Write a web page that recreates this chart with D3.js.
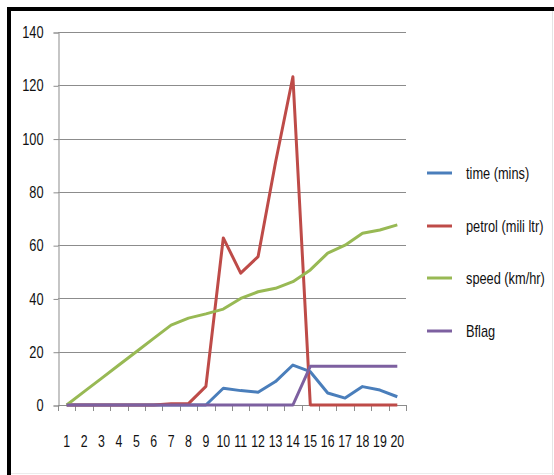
<!DOCTYPE html>
<html><head><meta charset="utf-8">
<script src="https://cdn.jsdelivr.net/npm/d3@7"></script>
<style>
body{margin:0;background:#fff;}
svg{display:block;}
text{font-family:"Liberation Sans",Arial,sans-serif;fill:#111;}
</style></head><body>
<svg id="chart" width="554" height="475"></svg>
<script>
const categories = ["1","2","3","4","5","6","7","8","9","10","11","12","13","14","15","16","17","18","19","20"];
const timeMins   = [0,0,0,0,0,0,0,0,0,6.3,5.4,4.8,8.8,15,12.5,4.5,2.6,6.9,5.6,3.1];
const petrolMl   = [0,0,0,0,0,0,0.5,0.5,7,62.7,49.5,55.7,91,123.2,0,0,0,0,0,0];
const speedKmh   = [0,5,10,15,20,25,30,32.6,34.2,36,40,42.5,43.8,46.3,50.7,57,60,64.5,65.7,67.6];
const bflag      = [0,0,0,0,0,0,0,0,0,0,0,0,0,0,14.5,14.5,14.5,14.5,14.5,14.5];
const yTicks     = [0,20,40,60,80,100,120,140];
const seriesNames = ["time (mins)","petrol (mili ltr)","speed (km/hr)","Bflag"];
const seriesColors = ["#4a7ebb","#be4b48","#98b954","#7d60a0"];
const seriesData = [timeMins, petrolMl, speedKmh, bflag];

(function(){
const svg = d3.select("#chart");
// condense a text horizontally around its own anchor x
function squeeze(sel, s){
  sel.each(function(){
    const t = d3.select(this);
    const ax = +(t.attr("x") || 0);
    t.attr("transform", `translate(${ax},0) scale(${s},1) translate(${-ax},0)`);
  });
}
// frame
svg.append("rect").attr("x",7).attr("y",7).attr("width",547).attr("height",4).attr("fill","#000");
svg.append("rect").attr("x",7).attr("y",7).attr("width",4).attr("height",468).attr("fill","#000");
svg.append("line").attr("x1",552.5).attr("x2",552.5).attr("y1",11).attr("y2",475).attr("stroke","#e4e4e4");
svg.append("line").attr("x1",11).attr("x2",554).attr("y1",473.5).attr("y2",473.5).attr("stroke","#ececec");

const pL = 58, pR = 406, pT = 32, pB = 405;
const x = d3.scaleBand().domain(categories).range([pL, pR]);
const y = d3.scaleLinear().domain([0,140]).range([pB, pT]);

// gridlines
svg.append("g").selectAll("line").data(yTicks.filter(d=>d>0)).join("line")
  .attr("x1",pL).attr("x2",pR)
  .attr("y1",d=>Math.round(y(d))+0.5).attr("y2",d=>Math.round(y(d))+0.5)
  .attr("stroke","#8c8c8c").attr("stroke-width",1.2);

// y axis
const yAxis = d3.axisLeft(y).tickValues(yTicks).tickSize(5).tickPadding(10).tickFormat(d3.format("d"));
const gy = svg.append("g").attr("transform",`translate(${pL+0.5},0.5)`).call(yAxis);
gy.select(".domain").attr("stroke","#a0a0a0").attr("stroke-width",1.2);
gy.selectAll(".tick line").attr("stroke","#8c8c8c");
gy.selectAll("text").style("font-size","16px").attr("fill","#111").call(squeeze,0.8);

// x axis
const xAxis = d3.axisBottom(x).tickSize(0).tickPadding(30);
const gx = svg.append("g").attr("transform",`translate(0,${pB+0.5})`).call(xAxis);
gx.select(".domain").remove();
gx.selectAll("text").style("font-size","16px").attr("fill","#111").call(squeeze,0.77);
// boundary ticks
const bounds = categories.map(c=>x(c)).concat([pR]);
svg.append("g").selectAll("line").data(bounds).join("line")
  .attr("x1",d=>Math.round(d)+0.5).attr("x2",d=>Math.round(d)+0.5)
  .attr("y1",pB).attr("y2",pB+6).attr("stroke","#8c8c8c");
svg.append("line").attr("x1",pL).attr("x2",pR).attr("y1",pB+0.5).attr("y2",pB+0.5)
  .attr("stroke","#8c8c8c").attr("stroke-width",1.2);

// series
const line = d3.line().x((d,i)=>x(categories[i])+x.bandwidth()/2).y(d=>y(d));
seriesData.forEach((vals,k)=>{
  svg.append("path").datum(vals).attr("d",line).attr("fill","none")
    .attr("stroke",seriesColors[k]).attr("stroke-width",3).attr("stroke-linejoin","round");
});

// legend
const legY = [173,226,278,331];
const lg = svg.append("g");
seriesNames.forEach((n,k)=>{
  lg.append("line").attr("x1",427).attr("x2",452).attr("y1",legY[k]).attr("y2",legY[k])
    .attr("stroke",seriesColors[k]).attr("stroke-width",3);
  lg.append("text").attr("x",466).attr("y",legY[k]).attr("dy","0.35em")
    .style("font-size","16px").text(n).call(squeeze,0.8);
});
})();
</script>
</body></html>
